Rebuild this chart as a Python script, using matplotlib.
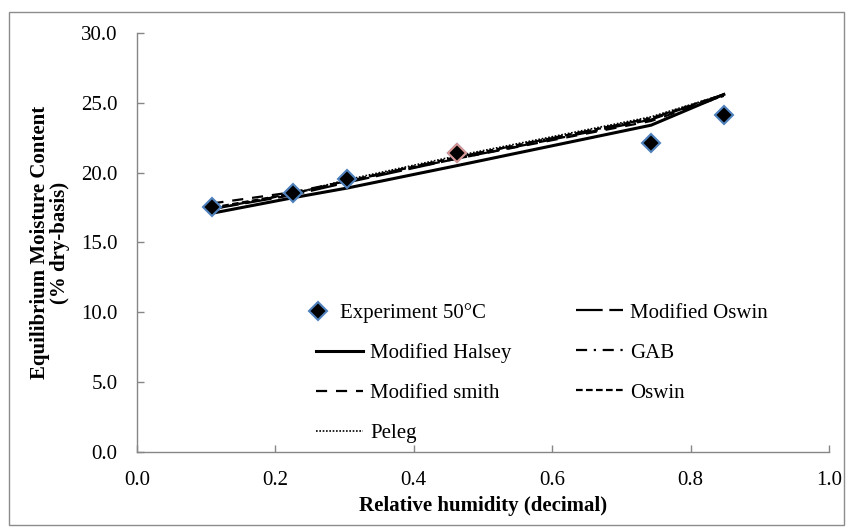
import matplotlib.pyplot as plt
from matplotlib.patches import Rectangle
from matplotlib.lines import Line2D

plt.rcParams['font.family'] = ['Liberation Serif', 'DejaVu Serif']

# water activity points and measured EMC at 50 C
rh = [0.109, 0.225, 0.304, 0.462, 0.743, 0.848]
emc_exp = [17.56, 18.52, 19.52, 21.43, 22.15, 24.12]

# model predictions at the same humidities
mod_oswin = [17.4, 18.4, 19.3, 21.0, 23.8, 25.6]
mod_halsey = [17.1, 18.2, 18.9, 20.5, 23.4, 25.6]
gab = [17.4, 18.5, 19.4, 21.1, 23.9, 25.5]
mod_smith = [17.8, 18.6, 19.4, 21.0, 23.7, 25.5]
oswin = [17.5, 18.5, 19.4, 21.1, 23.9, 25.6]
peleg = [17.4, 18.5, 19.5, 21.2, 24.0, 25.6]

x_ticks = [0.0, 0.2, 0.4, 0.6, 0.8, 1.0]
y_ticks = [0, 5, 10, 15, 20, 25, 30]

FS = 15

fig = plt.figure(figsize=(8.53, 5.32), dpi=100)
ax = fig.add_axes([0.1606, 0.1504, 0.8113, 0.7876])

# outer chart border
fig.patches.append(Rectangle((0.010, 0.013), 0.980, 0.965, transform=fig.transFigure,
                             fill=False, edgecolor='#8c8c8c', linewidth=1.0))

exp, = ax.plot(rh, emc_exp, linestyle='none', marker='D', markersize=9,
               markerfacecolor='black', markeredgecolor='#4f81bd', markeredgewidth=1.5,
               zorder=5)
# one point has a reddish outline
ax.plot(rh[3], emc_exp[3], linestyle='none', marker='D', markersize=9,
        markerfacecolor='black', markeredgecolor='#d99694', markeredgewidth=1.5, zorder=6)

l_moswin, = ax.plot(rh, mod_oswin, color='black', lw=1.6, dashes=(12, 3))
l_halsey, = ax.plot(rh, mod_halsey, color='black', lw=2.2)
l_gab, = ax.plot(rh, gab, color='black', lw=1.6, dashes=(5, 3, 1, 3))
l_msmith, = ax.plot(rh, mod_smith, color='black', lw=1.6, dashes=(5, 4))
l_oswin, = ax.plot(rh, oswin, color='black', lw=1.6, dashes=(3, 1.5))
l_peleg, = ax.plot(rh, peleg, color='black', lw=1.2, dashes=(1, 1))

ax.set_xlim(0, 1.0)
ax.set_ylim(0, 30)
ax.set_xticks(x_ticks)
ax.set_xticklabels([f'{v:.1f}' for v in x_ticks])
ax.set_yticks(y_ticks)
ax.set_yticklabels([f'{v:.1f}' for v in y_ticks])
ax.tick_params(direction='in', length=5, width=1, color='#868686', labelsize=FS, pad=14)

for side in ['top', 'right']:
    ax.spines[side].set_visible(False)
for side in ['left', 'bottom']:
    ax.spines[side].set_color('#868686')
    ax.spines[side].set_linewidth(1.0)

ax.set_xlabel('Relative humidity (decimal)', fontsize=FS, fontweight='bold', labelpad=4)
ax.set_ylabel('Equilibrium Moisture Content\n(% dry-basis)', fontsize=FS,
              fontweight='bold', labelpad=8, linespacing=1.0)

# the marker entry gets its own short handle
leg_exp = ax.legend([exp], ['Experiment 50°C'], frameon=False, fontsize=FS,
                    loc='upper left', bbox_to_anchor=(0.219, 0.40),
                    handlelength=1.0, handletextpad=0.55, numpoints=1)
ax.add_artist(leg_exp)

# matplotlib fills columns first; an empty slot keeps row one free for the marker entry
blank = Line2D([], [], linestyle='none')
handles = [blank, l_halsey, l_msmith, l_peleg, l_moswin, l_gab, l_oswin]
labels = [' ', 'Modified Halsey', 'Modified smith', 'Peleg',
          'Modified Oswin', 'GAB', 'Oswin']
ax.legend(handles, labels, ncol=2, frameon=False, fontsize=FS,
          loc='upper left', bbox_to_anchor=(0.232, 0.40),
          handlelength=2.26, handletextpad=0.33, columnspacing=3.1,
          labelspacing=0.98)

fig.savefig('out.png', dpi=100)
